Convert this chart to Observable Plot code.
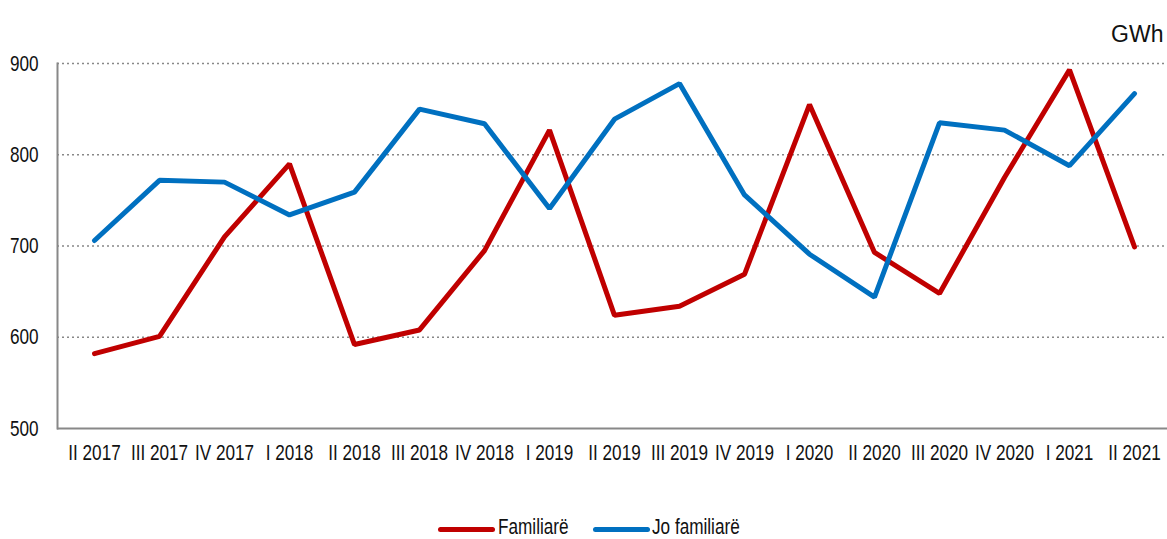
<!DOCTYPE html>
<html>
<head>
<meta charset="utf-8">
<script src="https://cdn.jsdelivr.net/npm/d3@7"></script>
<script src="https://cdn.jsdelivr.net/npm/@observablehq/plot@0.6"></script>
<style>
  html, body { margin: 0; padding: 0; background: #fff; }
  body { width: 1167px; height: 539px; overflow: hidden; font-family: "Liberation Sans", Arial, sans-serif; }
  #legend { position: relative; height: 39px; font-size: 22px; color: #111; }
  .sw { position: absolute; top: 27px; height: 5px; border-radius: 3px; }
  .lt { position: absolute; top: 16px; line-height: 22px; white-space: nowrap; transform: scaleX(0.78); transform-origin: left center; }
</style>
</head>
<body>
<div id="chart"></div>
<div id="legend"></div>
<script>
const quarters = ["II 2017","III 2017","IV 2017","I 2018","II 2018","III 2018","IV 2018","I 2019","II 2019","III 2019","IV 2019","I 2020","II 2020","III 2020","IV 2020","I 2021","II 2021"];
const familjare = [582, 601, 710, 790, 592, 608, 695, 827, 624, 634, 669, 855, 693, 648, 775, 893, 699];
const joFamiljare = [706, 772, 770, 734, 759, 850, 834, 741, 839, 878, 756, 691, 644, 835, 827, 788, 867];
const seriesNames = ["Familiarë", "Jo familiarë"];
const seriesColors = ["#C00000", "#0070C0"];
const yTicks = [500, 600, 700, 800, 900];

const rows = [];
quarters.forEach((q, i) => {
  rows.push({q, v: familjare[i], s: seriesNames[0]});
  rows.push({q, v: joFamiljare[i], s: seriesNames[1]});
});

const font = "'Liberation Sans', Arial, sans-serif";
const chart = Plot.plot({
  width: 1167,
  height: 500,
  marginLeft: 57,
  marginRight: 0,
  marginTop: 63,
  marginBottom: 72,
  style: {fontFamily: font, fontSize: "22px", color: "#111", background: "#fff"},
  x: {type: "point", domain: quarters, range: [89, 1139], padding: 0, label: null},
  y: {domain: [500, 900], label: null},
  color: {domain: seriesNames, range: seriesColors},
  marks: [
    Plot.gridY(yTicks.slice(1), {stroke: "#888", strokeOpacity: 1, strokeDasharray: "2,3", strokeWidth: 1.3}),
    Plot.ruleY([500], {stroke: "#888", strokeWidth: 2}),
    Plot.frame({anchor: "left", stroke: "#888", strokeWidth: 2}),
    Plot.axisY(yTicks, {tickSize: 0, tickPadding: 19, fontSize: 22, label: null}),
    Plot.axisX({tickSize: 0, tickPadding: 16, fontSize: 22, label: null}),
    Plot.line(rows, {x: "q", y: "v", z: "s", stroke: "s", strokeWidth: 5, strokeLinejoin: "miter", strokeLinecap: "round"}),
    Plot.text(["GWh"], {frameAnchor: "top-right", dy: -38, dx: -4, textAnchor: "end", fontSize: 23})
  ]
});
document.getElementById("chart").appendChild(chart);

// condense axis tick labels (narrow font look)
d3.select(chart).selectAll("g[aria-label='x-axis tick label'], g[aria-label='y-axis tick label']")
  .attr("font-size", 22);
d3.select(chart).selectAll("g[aria-label='x-axis tick label'] text, g[aria-label='y-axis tick label'] text").each(function() {
  const el = d3.select(this);
  const tf = el.attr("transform") || "";
  el.attr("transform", (tf + " scale(0.78,1)").trim());
});

const legend = document.getElementById("legend");
const legendPos = [[438, 57, 498], [593, 57, 652]];
seriesNames.forEach((n, i) => {
  const sw = document.createElement("div");
  sw.className = "sw";
  sw.style.left = legendPos[i][0] + "px";
  sw.style.width = legendPos[i][1] + "px";
  sw.style.background = seriesColors[i];
  const t = document.createElement("span");
  t.className = "lt";
  t.style.left = legendPos[i][2] + "px";
  t.textContent = n;
  legend.appendChild(sw);
  legend.appendChild(t);
});
</script>
</body>
</html>
